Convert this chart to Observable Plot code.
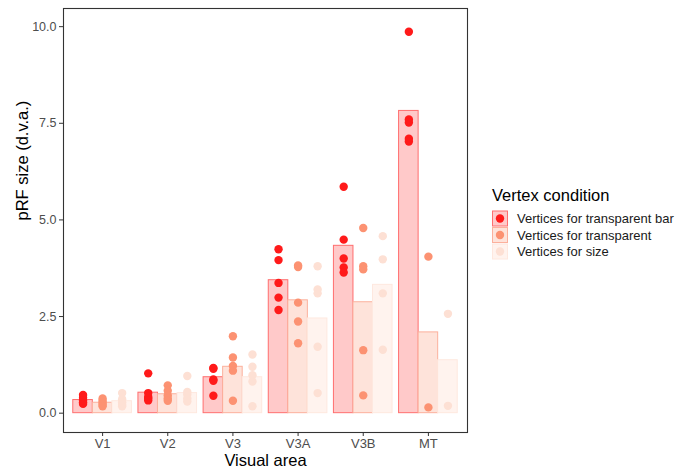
<!DOCTYPE html>
<html><head><meta charset="utf-8">
<script src="https://cdn.jsdelivr.net/npm/d3@7"></script>
<script src="https://cdn.jsdelivr.net/npm/@observablehq/plot@0.6"></script>
<style>
body{margin:0;background:#fff;font-family:"Liberation Sans",Arial,sans-serif;}
#wrap{position:relative;width:678px;height:472px;}
#legend{position:absolute;left:0;top:0;}
</style></head><body><div id="wrap"></div>
<script>
// ---- data ----
const areas = ["V1", "V2", "V3", "V3A", "V3B", "MT"];
const conditions = ["Vertices for transparent bar", "Vertices for transparent", "Vertices for size"];
const yTicks = [0, 2.5, 5, 7.5, 10];

const meanTransparentBar = [0.34, 0.53, 0.93, 3.44, 4.33, 7.82];
const meanTransparent    = [0.27, 0.49, 1.20, 2.92, 2.87, 2.09];
const meanSize           = [0.31, 0.52, 0.93, 2.45, 3.32, 1.37];

const ptsTransparentBar = [
  [0.47, 0.40, 0.33, 0.28, 0.24],
  [1.03, 0.52, 0.42, 0.38, 0.33],
  [1.17, 1.15, 0.87, 0.84, 0.45],
  [4.24, 3.96, 3.37, 2.99, 2.67],
  [5.86, 4.49, 4.00, 3.77, 3.64],
  [9.87, 7.60, 7.52, 7.10, 7.03]
];
const ptsTransparent = [
  [0.38, 0.32, 0.27, 0.22, 0.18],
  [0.72, 0.58, 0.46, 0.38, 0.32],
  [1.99, 1.44, 1.22, 1.10, 0.32],
  [3.82, 3.78, 2.86, 2.37, 1.81],
  [4.79, 3.80, 3.72, 1.63, 0.46],
  [4.05, 0.15]
];
const ptsSize = [
  [0.52, 0.36, 0.28, 0.22, 0.18],
  [0.96, 0.55, 0.48, 0.38, 0.30],
  [1.52, 1.20, 0.98, 0.82, 0.18],
  [3.80, 3.20, 3.10, 1.72, 0.52],
  [4.58, 3.98, 3.10, 1.64],
  [2.57, 0.19]
];

// ---- styles ----
const dotColor  = ["#ff1a1a", "#fc9272", "#fde0d4"];
const barFill   = ["#ffc9c9", "#fee3da", "#fff3ee"];
const barStroke = ["#ff6e6e", "#fcb09c", "#fee8df"];
const dodge = 0.3;

// ---- tables ----
const condMeans = [meanTransparentBar, meanTransparent, meanSize];
const condPts = [ptsTransparentBar, ptsTransparent, ptsSize];
const bars = [], pts = [];
conditions.forEach((c, ci) => areas.forEach((a, ai) => {
  bars.push({area: a, ai, ci, cond: c, value: condMeans[ci][ai]});
  condPts[ci][ai].forEach(v => pts.push({area: a, ai, ci, cond: c, value: v}));
}));
const xc = d => d.ai + (d.ci - 1) * dodge;

const marks = [];
conditions.forEach((c, ci) => {
  marks.push(Plot.rect(bars.filter(d => d.ci === ci), {
    x1: d => xc(d) - dodge / 2, x2: d => xc(d) + dodge / 2,
    y1: d => 0, y2: "value",
    fill: barFill[ci], stroke: barStroke[ci], strokeWidth: 1
  }));
});
conditions.forEach((c, ci) => {
  marks.push(Plot.dot(pts.filter(d => d.ci === ci), {
    x: xc, y: "value", r: 4.2, fill: dotColor[ci], stroke: "none"
  }));
});

const chart = Plot.plot({
  width: 678, height: 472,
  marginLeft: 63, marginRight: 211, marginTop: 8, marginBottom: 40,
  style: {fontFamily: "'Liberation Sans', Arial, sans-serif", fontSize: "12.5px", background: "#fff", color: "#333"},
  x: {type: "linear", domain: [-0.6, 5.6]},
  y: {domain: [-0.5, 10.47]},
  marks: [
    ...marks,
    Plot.frame({stroke: "#333", strokeWidth: 1.1}),
    Plot.axisX({ticks: d3.range(areas.length), tickFormat: i => areas[i], tickSize: 4, tickPadding: 2,
      fontSize: 13, stroke: "#333", fill: "#4d4d4d", label: null}),
    Plot.axisY({ticks: yTicks, tickFormat: d3.format(".1f"), tickSize: 4, tickPadding: 3,
      fontSize: 12.5, stroke: "#333", fill: "#4d4d4d", label: null}),
    Plot.text(["Visual area"], {text: d => d, frameAnchor: "bottom", dy: 33, fontSize: 16.5, fill: "#000"}),
    Plot.text(["pRF size (d.v.a.)"], {text: d => d, frameAnchor: "left", rotate: -90, dx: -41, fontSize: 16.5, fill: "#000"})
  ]
});
const wrap = document.getElementById("wrap");
wrap.appendChild(chart);

// ---- legend ----
const lg = d3.select(wrap).append("svg").attr("id", "legend")
  .attr("width", 678).attr("height", 472)
  .style("font-family", "'Liberation Sans', Arial, sans-serif");
lg.append("text").attr("x", 492).attr("y", 201).attr("font-size", 16.5).attr("fill", "#000").text("Vertex condition");
conditions.forEach((c, ci) => {
  const y0 = 211 + ci * 16.5;
  lg.append("rect").attr("x", 492.5).attr("y", y0).attr("width", 15).attr("height", 15)
    .attr("fill", barFill[ci]).attr("stroke", barStroke[ci]).attr("stroke-width", 1);
  lg.append("circle").attr("cx", 500).attr("cy", y0 + 7.5).attr("r", 4.2).attr("fill", dotColor[ci]);
  lg.append("text").attr("x", 517).attr("y", y0 + 7.5).attr("dy", "0.35em").attr("font-size", 13)
    .attr("fill", "#1a1a1a").text(c);
});
</script></body></html>
